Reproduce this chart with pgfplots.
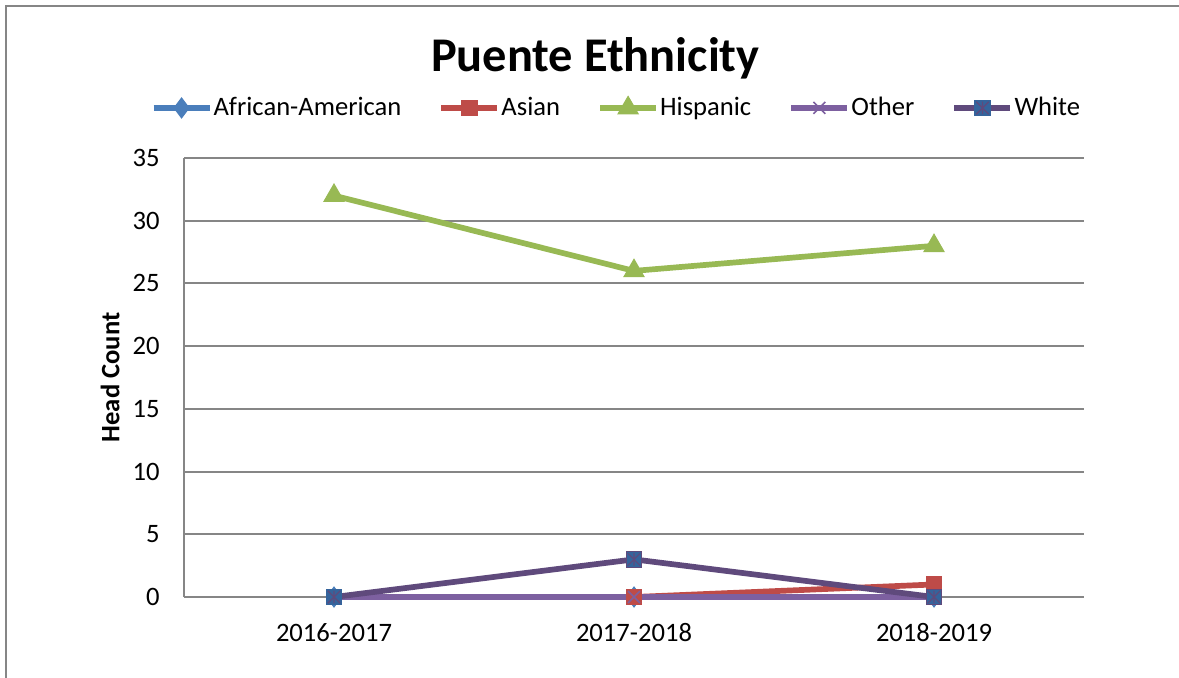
\documentclass[border=0pt]{standalone}
\usepackage{fontspec}
\setmainfont{Carlito}
\usepackage{pgfplots}
\pgfplotsset{compat=1.18}
\definecolor{cAA}{HTML}{4A7EBB}
\definecolor{cAs}{HTML}{BE4B48}
\definecolor{cHi}{HTML}{98B954}
\definecolor{cOt}{HTML}{7D60A0}
\definecolor{cWh}{HTML}{5F4A7C}
\definecolor{cWhM}{HTML}{35649C}
\definecolor{gridc}{HTML}{868686}
\pgfdeclareplotmark{sqstar}{%
  \pgfpathrectangle{\pgfqpoint{-\pgfplotmarksize}{-\pgfplotmarksize}}{\pgfqpoint{2\pgfplotmarksize}{2\pgfplotmarksize}}%
  \pgfusepathqfillstroke
  \pgfsetstrokecolor{cWh}\pgfsetlinewidth{0.6pt}%
  \pgfpathmoveto{\pgfqpoint{-0.8\pgfplotmarksize}{-0.8\pgfplotmarksize}}\pgfpathlineto{\pgfqpoint{0.8\pgfplotmarksize}{0.8\pgfplotmarksize}}%
  \pgfpathmoveto{\pgfqpoint{-0.8\pgfplotmarksize}{0.8\pgfplotmarksize}}\pgfpathlineto{\pgfqpoint{0.8\pgfplotmarksize}{-0.8\pgfplotmarksize}}%
  \pgfpathmoveto{\pgfqpoint{0pt}{-0.8\pgfplotmarksize}}\pgfpathlineto{\pgfqpoint{0pt}{0.8\pgfplotmarksize}}%
  \pgfusepathqstroke
}
\begin{document}
\begin{tikzpicture}[x=1pt,y=1pt]
\useasboundingbox (0,0) rectangle (589.5,338.5);
\draw[gridc, line width=1pt] (2.75,-2) -- (2.75,335.75) -- (592,335.75);
\begin{axis}[
  at={(92pt,40pt)}, anchor=south west,
  scale only axis, width=450pt, height=219.5pt,
  xmin=-0.5, xmax=2.5, ymin=0, ymax=35,
  xtick={0,1,2}, xticklabels={2016-2017,2017-2018,2018-2019},
  ytick={0,5,...,35},
  axis x line*=bottom, axis y line*=left,
  axis line style={gridc, line width=1pt, -},
  major tick length=0pt,
  ymajorgrids, grid style={gridc, line width=1pt},
  /pgf/number format/assume math mode=true,
  tick label style={font=\fontsize{13.3}{16}\selectfont, text=black},
  yticklabel style={anchor=east, inner sep=0pt, xshift=-12pt},
  xticklabel style={anchor=north, inner sep=0pt, yshift=-13pt},
  ylabel={Head Count},
  ylabel style={at={(axis description cs:-0.082,0.5)}, anchor=center, font=\fontsize{13.3}{16}\selectfont\bfseries},
  every axis title shift=0pt,
  title={Puente Ethnicity},
  title style={at={(axis description cs:0.457,1.228)}, anchor=center, font=\fontsize{24.2}{29}\selectfont\bfseries},
  legend columns=-1,
  legend style={at={(0.48,1.114)}, anchor=center, draw=none, fill=none,
    font=\fontsize{13.3}{16}\selectfont, inner sep=0pt,
    nodes={inner sep=0.6pt},
    /tikz/every even column/.append style={column sep=18pt},
    /tikz/every odd column/.append style={column sep=0pt}},
  legend image code/.code={\draw[mark repeat=2,mark phase=2,#1] plot coordinates {(0pt,0pt) (14pt,0pt) (28pt,0pt)};},
  every axis plot/.append style={line width=2.85pt},
  clip=false,
]
\addplot[color=cAA, mark=diamond*, mark size=5pt, mark options={fill=cAA, draw=cAA, line width=0.5pt}] coordinates {(0,0) (1,0) (2,0)};
\addlegendentry{African-American}
\addplot[color=cAs, mark=square*, mark size=3.9pt, mark options={fill=cAs, draw=cAs, line width=0.5pt}] coordinates {(0,0) (1,0) (2,1)};
\addlegendentry{Asian}
\addplot[color=cHi, mark=triangle*, mark size=5.8pt, mark options={fill=cHi, draw=cHi, line width=0.5pt}] coordinates {(0,32) (1,26) (2,28)};
\addlegendentry{Hispanic}
\addplot[color=cOt, mark=x, mark size=4.2pt, mark options={draw=cOt, line width=0.8pt}] coordinates {(0,0) (1,0) (2,0)};
\addlegendentry{Other}
\addplot[color=cWh, mark=sqstar, mark size=3.9pt, mark options={fill=cWhM, draw=cWhM, line width=0.5pt}] coordinates {(0,0) (1,3) (2,0)};
\addlegendentry{White}
\end{axis}
\end{tikzpicture}
\end{document}
